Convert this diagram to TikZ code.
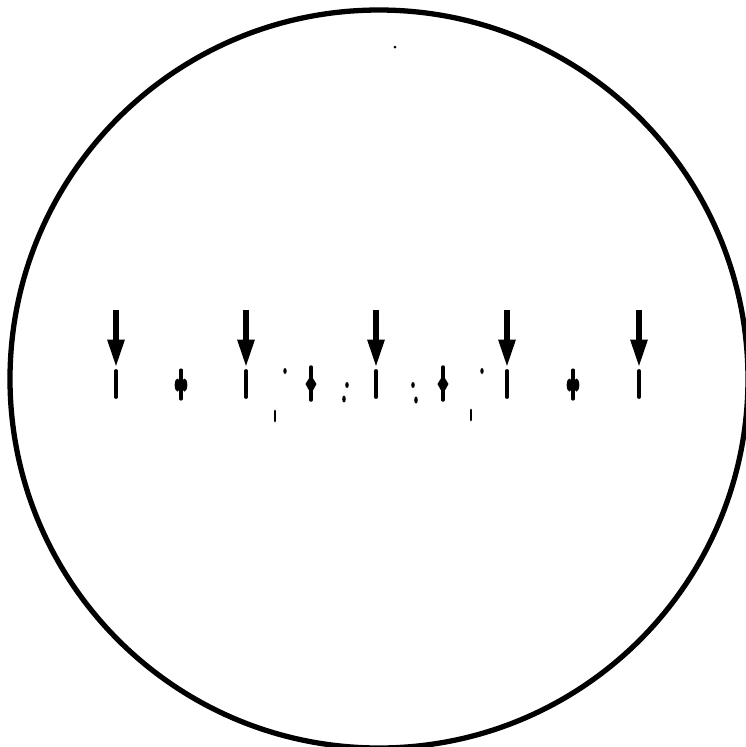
\documentclass[tikz,border=0pt]{standalone}
\usepackage{tikz}
\usetikzlibrary{arrows.meta,shapes.geometric}

\begin{document}
\begin{tikzpicture}[x=0.01cm,y=-0.01cm,line join=round,
    bar/.style={line width=1.1pt,line cap=round},
    pointer/.style={line width=1.5pt,-{Triangle[length=7.8pt,width=4.6pt]}},
    speck/.style={fill=black,draw=none}]
  % ---- frame ---------------------------------------------------------------
  \useasboundingbox (0,0) rectangle (746,747);
  \fill[white] (0,0) rectangle (746,747);

  % ---- field of view -------------------------------------------------------
  \draw[line width=1.5pt] (379,379) circle (369);

  % ---- arrows with the lines under them ------------------------------------
  \foreach \px in {116,246,376,507,639} {
    \draw[pointer] (\px,310) -- (\px,367);
    \draw[bar] (\px,371) -- (\px,397);
  }

  % ---- split marks ---------------------------------------------------------
  \foreach \px in {181,573} {
    \draw[bar,line width=0.9pt] (\px,370) -- (\px,399);
    \fill (\px-3.5,385) ellipse (2.8 and 6.5);
    \fill (\px+3.5,385) ellipse (2.8 and 6.5);
  }

  % ---- diamond marks -------------------------------------------------------
  \foreach \px in {311,443} {
    \draw[bar,line width=1pt] (\px,367) -- (\px,400);
    \fill (\px,375) -- (\px+5.5,384) -- (\px,394) -- (\px-5.5,384) -- cycle;
  }

  % ---- specks --------------------------------------------------------------
  \fill[speck] (285,371) ellipse (1.7 and 3);
  \fill[speck] (482,371) ellipse (1.7 and 3);
  \fill[speck] (347,385) ellipse (1.8 and 3);
  \fill[speck] (344,399) ellipse (1.8 and 3.5);
  \fill[speck] (413,385) ellipse (1.8 and 3);
  \fill[speck] (416,400) ellipse (1.8 and 3.5);
  \draw[bar,line width=0.8pt] (275,411) -- (275,421);
  \draw[bar,line width=0.8pt] (471,410) -- (471,420);
  \fill[speck] (395,47) circle (1.5);
\end{tikzpicture}
\end{document}
